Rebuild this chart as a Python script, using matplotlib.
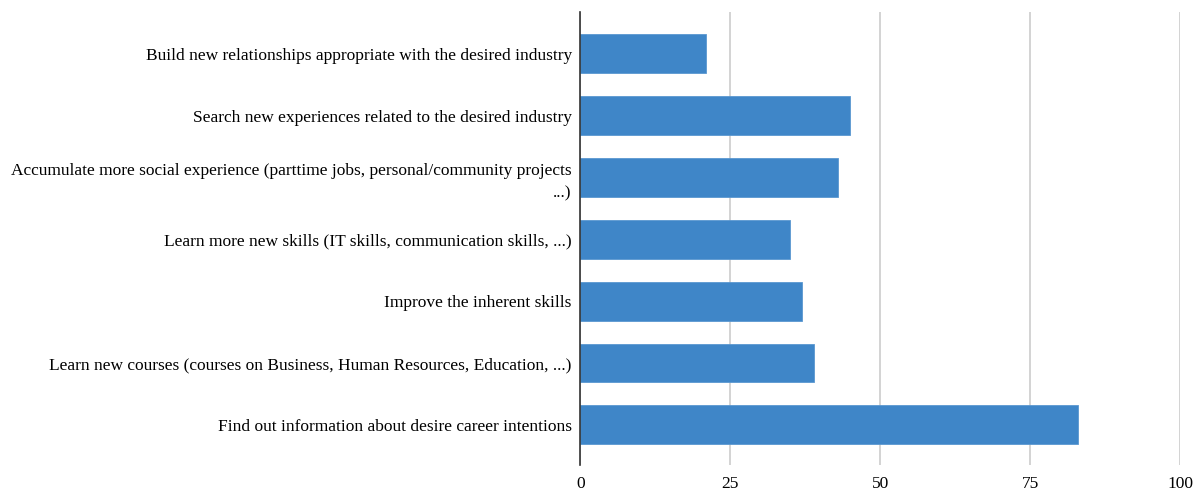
import matplotlib.pyplot as plt

plt.rcParams["font.family"] = ["Liberation Serif", "DejaVu Serif"]

labels = [
    "Build new relationships appropriate with the desired industry",
    "Search new experiences related to the desired industry",
    "Accumulate more social experience (parttime jobs, personal/community projects\n...)",
    "Learn more new skills (IT skills, communication skills, ...)",
    "Improve the inherent skills",
    "Learn new courses (courses on Business, Human Resources, Education, ...)",
    "Find out information about desire career intentions",
]
values = [21, 45, 43, 35, 37, 39, 83]
ticks = [0, 25, 50, 75, 100]

fig = plt.figure(figsize=(12, 4.9), dpi=100)
ax = fig.add_axes([0.4835, 0.051, 0.5, 0.925])

pos = list(range(len(labels)))
ax.barh(pos, values, height=0.63, color="#3f86c8", edgecolor="#5a97d0", linewidth=0.6, zorder=3)

ax.set_ylim(len(labels) - 0.35, -0.68)
ax.set_xlim(0, 100)
ax.set_yticks(pos)
ax.set_yticklabels(labels, fontsize=12.5, ha="right", multialignment="right", linespacing=1.5)
ax.set_xticks(ticks)
ax.set_xticklabels([str(t) for t in ticks], fontsize=12.5)
ax.tick_params(axis="both", length=0, colors="black")
ax.tick_params(axis="y", pad=6)
ax.tick_params(axis="x", pad=8)

ax.grid(axis="x", color="#cccccc", linewidth=1.2, zorder=0)
for side in ["top", "right", "bottom"]:
    ax.spines[side].set_visible(False)
ax.spines["left"].set_color("#333333")
ax.spines["left"].set_linewidth(1.2)
ax.spines["left"].set_zorder(4)

fig.savefig("out.png", dpi=100)
